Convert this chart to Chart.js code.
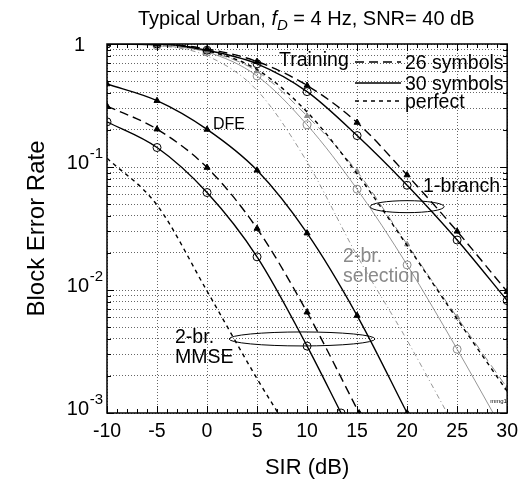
<!DOCTYPE html>
<html>
<head>
<meta charset="utf-8">
<script src="https://cdn.jsdelivr.net/npm/chart.js@4.4.0/dist/chart.umd.min.js"></script>
<style>
  body { margin: 0; background: #fff; }
  #wrap { position: relative; width: 525px; height: 485px; }
</style>
</head>
<body>
<div id="wrap"><canvas id="chart" width="525" height="485"></canvas></div>
<script>
// SIR values (dB) and block error rates
const sir = [-10, -5, 0, 5, 10, 15, 20, 25, 30];

// 1-branch
const oneBr26 = [1, 1, 0.91, 0.72, 0.46, 0.23, 0.086, 0.030, 0.0097];
const oneBr30 = [1, 1, 0.89, 0.69, 0.41, 0.18, 0.071, 0.0255, 0.0082];
const oneBrPerf = [1, 1, 0.88, 0.62, 0.28, 0.088, 0.023, 0.0058, 0.0015];

// 2-branch selection
const sel26 = [1, 0.98, 0.87, 0.6, 0.26, 0.092, 0.0235, 0.006, 0.0016];
const sel30Sir = [-10, -5, 0, 5, 10, 15, 20, 25, 28.6];
const sel30 = [1, 0.97, 0.86, 0.55, 0.22, 0.066, 0.016, 0.0033, 0.001];
const selPerfSir = [-10, -5, 0, 5, 10, 15, 20, 24];
const selPerf = [1, 0.97, 0.8, 0.42, 0.11, 0.019, 0.0039, 0.001];

// 2-branch MMSE
const dfeSir = [-10, -5, 0, 5, 10, 15, 20];
const dfe = [0.473, 0.346, 0.202, 0.094, 0.029, 0.0062, 0.001];
const mmse26Sir = [-10, -5, 0, 5, 10, 15.2];
const mmse26 = [0.313, 0.203, 0.099, 0.0316, 0.0066, 0.001];
const mmse30Sir = [-10, -5, 0, 5, 10, 13.4];
const mmse30 = [0.233, 0.144, 0.062, 0.0186, 0.0035, 0.001];
const mmsePerfSir = [-10, -5, 0, 5, 7.1];
const mmsePerf = [0.118, 0.049, 0.0098, 0.0019, 0.001];

// axis ticks
const xTicks = [-10, -5, 0, 5, 10, 15, 20, 25, 30];
const yMajor = [1, 0.1, 0.01, 0.001];
const yExp = [0, -1, -2, -3];

const FONT = '"Liberation Sans", Arial, Helvetica, sans-serif';
const GRAY = '#8a8a8a';

function pts(xs, ys) {
  return ys.map((y, i) => ({x: xs[i], y: y}));
}

function curve(label, xs, ys, style) {
  return Object.assign({
    label: label,
    data: pts(xs, ys),
    borderColor: '#000',
    borderWidth: 1.4,
    pointRadius: 0,
    fill: false,
    cubicInterpolationMode: 'monotone'
  }, style);
}

const dash26 = [9, 5];
const dashPerf = [4, 4];
const circle = {pointStyle: 'circle', pointRadius: 4, pointBorderWidth: 1, pointBackgroundColor: 'rgba(0,0,0,0)', pointBorderColor: '#000'};
const tri = {pointStyle: 'triangle', pointRadius: 3.5, pointBorderWidth: 1, pointBackgroundColor: '#000', pointBorderColor: '#000'};

const datasets = [
  curve('1-branch 26', sir, oneBr26, Object.assign({borderDash: dash26}, tri)),
  curve('1-branch 30', sir, oneBr30, Object.assign({}, circle)),
  curve('1-branch perfect', sir, oneBrPerf, {borderDash: dashPerf}),
  curve('sel 26', sir, sel26, Object.assign({borderDash: dash26}, tri, {borderColor: GRAY, pointBackgroundColor: GRAY, pointBorderColor: GRAY, borderWidth: 1, pointRadius: 3})),
  curve('sel 30', sel30Sir, sel30, Object.assign({}, circle, {borderColor: GRAY, pointBorderColor: GRAY, borderWidth: 0.9,
    pointRadius: c => (c.raw && c.raw.x % 5 === 0 ? 4 : 0)})),
  curve('sel perfect', selPerfSir, selPerf, {borderDash: [5, 3, 1, 3], borderColor: GRAY, borderWidth: 0.9}),
  curve('DFE', dfeSir, dfe, Object.assign({}, tri)),
  curve('MMSE 26', mmse26Sir, mmse26, Object.assign({borderDash: dash26}, tri)),
  curve('MMSE 30', mmse30Sir, mmse30, Object.assign({}, circle)),
  curve('MMSE perfect', mmsePerfSir, mmsePerf, {borderDash: dashPerf})
];

function drawEllipse(ctx, cx, cy, rx, ry, color) {
  ctx.save();
  ctx.strokeStyle = color;
  ctx.lineWidth = 1;
  ctx.beginPath();
  ctx.ellipse(cx, cy, rx, ry, 0, 0, Math.PI * 2);
  ctx.stroke();
  ctx.restore();
}

const decor = {
  id: 'decor',
  afterDatasetsDraw(chart) {
    const {ctx, chartArea: a, scales: {x, y}} = chart;
    ctx.save();
    // box
    ctx.strokeStyle = '#000';
    ctx.lineWidth = 1.5;
    ctx.strokeRect(a.left, a.top, a.right - a.left, a.bottom - a.top);
    // inside ticks
    ctx.lineWidth = 1;
    ctx.beginPath();
    for (let v = -10; v <= 30; v++) {
      const px = Math.round(x.getPixelForValue(v)) + 0.5;
      const len = v % 5 === 0 ? 7 : 4;
      ctx.moveTo(px, a.bottom); ctx.lineTo(px, a.bottom - len);
      ctx.moveTo(px, a.top); ctx.lineTo(px, a.top + len);
    }
    for (let e = -3; e < 0; e++) {
      for (let m = 1; m <= 10; m++) {
        const v = m * Math.pow(10, e);
        const py = Math.round(y.getPixelForValue(v)) + 0.5;
        const len = m === 1 || m === 10 ? 7 : 4;
        ctx.moveTo(a.left, py); ctx.lineTo(a.left + len, py);
        ctx.moveTo(a.right, py); ctx.lineTo(a.right - len, py);
      }
    }
    ctx.stroke();

    // y tick labels 10^n
    ctx.fillStyle = '#000';
    ctx.textBaseline = 'alphabetic';
    ctx.textAlign = 'right';
    yMajor.forEach((v, i) => {
      const py = y.getPixelForValue(v);
      if (yExp[i] === 0) {
        ctx.font = '20px ' + FONT;
        ctx.fillText('1', 85, py + 7);
      } else {
        ctx.font = '15px ' + FONT;
        ctx.fillText(String(yExp[i]), 103, py - 9);
        ctx.font = '20px ' + FONT;
        ctx.fillText('10', 89, py + 2);
      }
    });

    // y axis title
    ctx.save();
    ctx.translate(37, (a.top + a.bottom) / 2);
    ctx.rotate(-Math.PI / 2);
    ctx.textAlign = 'center';
    ctx.textBaseline = 'middle';
    ctx.font = '24px ' + FONT;
    ctx.fillText('Block Error Rate', 0, 0);
    ctx.restore();

    // title
    ctx.textAlign = 'left';
    let tx = 138;
    const ty = 25;
    const parts = [
      ['Typical Urban, ', '20px ' + FONT, 0],
      ['f', 'italic 20px ' + FONT, 0],
      ['D', 'italic 15px ' + FONT, 5],
      [' = 4 Hz, SNR= 40 dB', '20px ' + FONT, 0]
    ];
    parts.forEach(p => {
      ctx.font = p[1];
      ctx.fillText(p[0], tx, ty + p[2]);
      tx += ctx.measureText(p[0]).width;
    });

    // legend
    ctx.font = '19.5px ' + FONT;
    ctx.fillText('Training', 279, 66);
    const legRows = [['26 symbols', dash26, 62], ['30 symbols', [], 83], ['perfect', dashPerf, 101]];
    legRows.forEach(r => {
      ctx.save();
      ctx.setLineDash(r[1]);
      ctx.lineWidth = 1.4;
      ctx.beginPath();
      ctx.moveTo(355, r[2]); ctx.lineTo(401, r[2]);
      ctx.stroke();
      ctx.restore();
      ctx.fillText(r[0], 405, r[2] + 7);
    });

    // annotations
    const X = v => x.getPixelForValue(v);
    const Y = v => y.getPixelForValue(v);
    ctx.font = '19.5px ' + FONT;
    ctx.fillText('1-branch', X(21.6), Y(0.071) + 7);
    drawEllipse(ctx, X(20), Y(0.0476), 37, 6, '#000');

    ctx.fillStyle = GRAY;
    ctx.fillText('2-br.', X(13.6), Y(0.0193) + 7);
    ctx.fillText('selection', X(13.6), Y(0.0132) + 7);

    ctx.fillStyle = '#000';
    ctx.fillText('2-br.', X(-3.2), Y(0.0042) + 7);
    ctx.fillText('MMSE', X(-3.2), Y(0.0029) + 7);
    drawEllipse(ctx, X(9.5), Y(0.0040), 73, 7, '#000');

    ctx.font = '16px ' + FONT;
    ctx.fillText('DFE', X(0.6), Y(0.226) + 6);

    ctx.font = '6px ' + FONT;
    ctx.fillText('mmg1', X(28.3), Y(0.0012));
    ctx.restore();
  }
};

new Chart(document.getElementById('chart'), {
  type: 'line',
  data: {datasets: datasets},
  options: {
    responsive: false,
    animation: false,
    devicePixelRatio: 1,
    layout: {padding: {top: 44, right: 17, left: 0, bottom: 0}},
    plugins: {legend: {display: false}, title: {display: false}, tooltip: {enabled: false}},
    scales: {
      x: {
        type: 'linear', min: -10, max: 30,
        afterBuildTicks: s => { s.ticks = xTicks.map(v => ({value: v})); },
        afterFit: s => { s.height = 72; },
        ticks: {color: '#000', font: {family: FONT, size: 19.5}, padding: 7, maxRotation: 0},
        grid: {color: '#666', lineWidth: 1, drawTicks: false},
        border: {display: false, dash: [1, 2]},
        title: {display: true, text: 'SIR (dB)', color: '#000', font: {family: FONT, size: 22}, padding: {top: 8}}
      },
      y: {
        type: 'logarithmic', min: 0.001, max: 1,
        afterBuildTicks: s => {
          const t = [];
          for (let e = -3; e < 0; e++) for (let m = 1; m < 10; m++) t.push({value: m * Math.pow(10, e), major: m === 1});
          t.push({value: 1, major: true});
          s.ticks = t;
        },
        afterFit: s => { s.width = 107; },
        ticks: {display: false},
        grid: {color: '#666', lineWidth: 1, drawTicks: false},
        border: {display: false, dash: [1, 2]}
      }
    }
  },
  plugins: [decor]
});
</script>
</body>
</html>
